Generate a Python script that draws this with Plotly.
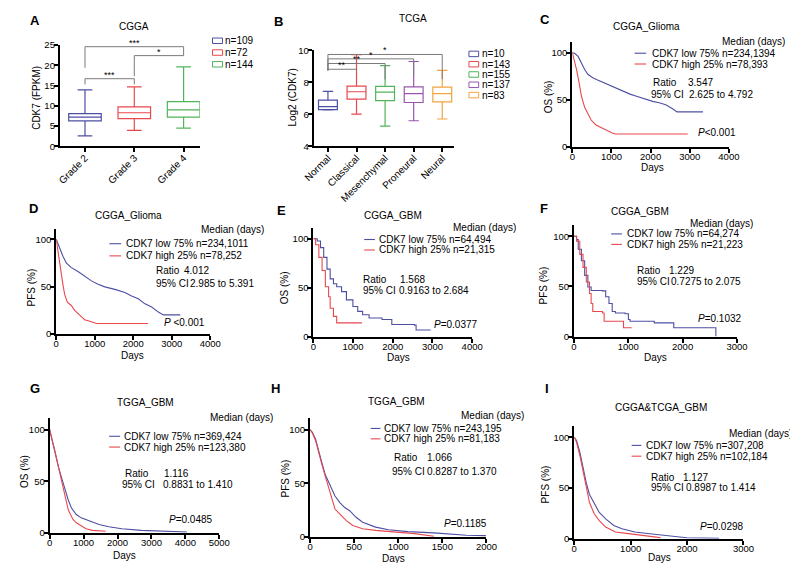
import plotly.graph_objects as go

W, H = 798, 563
FONT = "Arial, Liberation Sans, Helvetica, sans-serif"
BLUE = "#4d4fa3"
RED = "#e8484d"
GREEN = "#52b45a"
PURPLE = "#9b55b0"
ORANGE = "#f2a441"
GREY = "#7a7a7a"

# ---------------- data: panel A (CGGA boxes) ----------------
A_cats = ["Grade 2", "Grade 3", "Grade 4"]
A_q1 = [6.3, 6.85, 7.2]
A_med = [7.2, 8.3, 9.0]
A_q3 = [8.06, 9.76, 11.05]
A_low = [2.6, 3.95, 4.5]
A_high = [13.95, 14.7, 19.6]
A_n = ["n=109", "n=72", "n=144"]
A_yticks = [0, 5, 10, 15, 20, 25]
A_sig_pairs = [(0, 2), (1, 2), (0, 1)]
A_sig_y = [24.6, 22.4, 16.7]
A_sig_leg_left = [19.4, 17.3, 15.3]
A_sig_leg_right = [22.4, 22.4, 15.3]
A_sig_label = ["***", "*", "***"]

# ---------------- data: panel B (TCGA boxes) ----------------
B_cats = ["Normal", "Classical", "Mesenchymal", "Proneural", "Neural"]
B_q1 = [6.3, 6.95, 6.85, 6.74, 6.78]
B_med = [6.48, 7.41, 7.39, 7.29, 7.29]
B_q3 = [6.89, 7.76, 7.74, 7.72, 7.7]
B_low = [6.27, 6.01, 5.26, 5.6, 5.71]
B_high = [7.43, 9.73, 9.04, 9.3, 8.74]
B_n = ["n=10", "n=143", "n=155", "n=137", "n=83"]
B_yticks = [4, 6, 8, 10]
B_sig_pairs = [(0, 4), (0, 3), (0, 2), (0, 1)]
B_sig_y = [11.32, 10.97, 10.6, 10.14]
B_sig_leg_left = [10.05, 10.05, 10.05, 10.05]
B_sig_leg_right = [9.35, 9.63, 9.33, 10.0]
B_sig_label = ["*", "*", "**", "**"]

# ---------------- data: Kaplan-Meier curves (days, %) ----------------
C_low_t = [0, 66, 149, 232, 315, 398, 522, 646, 812, 977, 1143, 1308, 1474, 1640, 1888, 2054, 2220, 2385, 2551, 2675, 3337]
C_low_s = [100, 99, 95.9, 89, 82, 77, 73.4, 71, 68, 64.8, 61.4, 58.6, 56, 53.8, 50.3, 48.3, 46.9, 44.8, 40.7, 37.2, 37.2]
C_high_t = [0, 41, 108, 174, 232, 315, 398, 480, 605, 729, 853, 1019, 1101, 2950]
C_high_s = [100, 94, 82, 68, 54, 42, 34.5, 28.6, 23.4, 20.7, 18.3, 14.8, 13.8, 13.8]

D_low_t = [0, 87, 174, 261, 391, 565, 739, 913, 1087, 1261, 1522, 1783, 1957, 2130, 2304, 2478, 2652, 2783, 3220]
D_low_s = [100, 90, 82, 75, 70, 66, 61, 56, 52.4, 49.7, 47, 43.8, 40, 37, 31.7, 28.3, 23, 20, 20]
D_high_t = [0, 43, 87, 130, 174, 217, 287, 391, 478, 609, 739, 913, 1043, 2380]
D_high_s = [100, 87, 76, 63, 52, 42, 33.4, 30, 24.8, 19.7, 15, 12.8, 11, 11]

E_low_t = [0, 98, 180, 261, 343, 424, 506, 588, 710, 833, 996, 1118, 1241, 1404, 1731, 1976, 2547, 2588, 2955]
E_low_s = [100, 97.7, 91, 81, 69, 59, 54, 51, 46, 37.5, 30.8, 25.8, 22.4, 19, 17.4, 12.4, 11.7, 6.7, 6.7]
E_high_t = [0, 57, 139, 220, 302, 384, 424, 506, 588, 1224]
E_high_s = [100, 94, 81, 67.6, 51, 40.8, 29, 20.7, 14, 14]

F_low_t = [0, 48, 78, 137, 197, 256, 316, 525, 584, 644, 704, 763, 942, 1002, 1032, 1479, 1837, 2612]
F_low_s = [100, 96.7, 87, 75.6, 61, 49.5, 46, 45.6, 39.7, 33, 25, 23.5, 22.8, 17, 15.3, 13.7, 8.8, 0]
F_high_t = [0, 48, 107, 167, 227, 286, 316, 346, 525, 555, 883, 912, 1061]
F_high_s = [100, 95, 82, 69, 54.4, 43, 33, 25, 23.5, 15.3, 15.3, 8.8, 8.8]

G_low_t = [0, 67, 163, 259, 355, 451, 547, 642, 786, 930, 1170, 1457, 1745, 2128, 2704, 3279, 3854, 4046]
G_low_s = [100, 90, 77, 64, 53, 42, 32, 24, 17.6, 14.4, 11.2, 8, 5.8, 3.8, 2.2, 1.3, 0.6, 0.6]
G_high_t = [0, 67, 163, 259, 355, 422, 499, 547, 614, 690, 786, 930, 1074, 1266, 1650]
G_high_s = [100, 92, 78.5, 64, 51, 42, 30.4, 22.4, 17.6, 12.8, 9.6, 7, 3.8, 2.2, 1.3]

H_low_t = [0, 26, 62, 99, 136, 173, 228, 283, 338, 393, 449, 522, 596, 743, 890, 1110, 1404, 1625, 1772, 1993]
H_low_s = [100, 97.6, 91.5, 79.3, 68.6, 57.9, 47.3, 38.1, 32, 27.4, 24.4, 18.3, 13.7, 9.1, 6.7, 4.9, 3.7, 2.1, 1.5, 1.2]
H_high_t = [0, 26, 62, 99, 136, 173, 210, 246, 283, 338, 412, 485, 596, 743, 1037, 1184, 1404]
H_high_s = [100, 97, 90, 77.7, 67, 56.4, 45.7, 35, 26, 21.3, 15.2, 10.7, 7.6, 6.1, 4.3, 3, 0.6]

I_low_t = [0, 40, 98, 155, 213, 270, 356, 443, 557, 701, 845, 1075, 1420, 1707, 1994, 2569]
I_low_s = [100, 96.8, 85.5, 69.5, 55, 43.7, 34.1, 26, 19.6, 13.2, 10, 6.8, 4.5, 2.6, 1, 0.6]
I_high_t = [0, 40, 98, 155, 213, 270, 356, 443, 557, 730, 960, 1247, 1420, 1534]
I_high_s = [100, 95.2, 82.3, 66.2, 50.2, 35.7, 24.4, 18, 11.6, 6.8, 5.1, 3.5, 1.9, 1]

KM_yticks = [0, 50, 100]

# ---------------- helpers ----------------
fig = go.Figure()
layout = {}
annotations = []
shapes = []


def xdom(a, b):
    return [a / W, b / W]


def ydom(top, bottom):
    return [1 - bottom / H, 1 - top / H]


def px(x):
    return x / W


def py(y):
    return 1 - y / H


def axis_style(**kw):
    d = dict(showline=True, linecolor="black", linewidth=2, ticks="outside", ticklen=4,
             tickwidth=1.5, tickcolor="black", showgrid=False, zeroline=False,
             tickfont=dict(family=FONT, size=9.5, color="black"), fixedrange=True)
    d.update(kw)
    return d


def add_axes(n, xd, yd, xkw, ykw):
    xs = "xaxis" if n == 1 else f"xaxis{n}"
    ys = "yaxis" if n == 1 else f"yaxis{n}"
    xa = "x" if n == 1 else f"x{n}"
    ya = "y" if n == 1 else f"y{n}"
    xk = dict(ticklabelstandoff=-4)
    xk.update(xkw)
    yk = dict(ticklabelstandoff=-3)
    yk.update(ykw)
    layout[xs] = axis_style(domain=xd, anchor=ya, **xk)
    layout[ys] = axis_style(domain=yd, anchor=xa, **yk)
    return xa, ya


def text(t, x, y, xanchor="left", size=10, bold=False, angle=0, yanchor="middle"):
    annotations.append(dict(text=f"<b>{t}</b>" if bold else t, x=px(x), y=py(y), xref="paper",
                            yref="paper", xanchor=xanchor, yanchor=yanchor, showarrow=False,
                            textangle=angle, font=dict(family=FONT, size=size, color="black")))


def brackets(xa, ya, cats, pairs, ys, legl, legr, labels):
    for (i, j), yv, l1, l2, lab in zip(pairs, ys, legl, legr, labels):
        fig.add_trace(go.Scatter(x=[cats[i], cats[i], cats[j], cats[j]], y=[l1, yv, yv, l2],
                                 mode="lines", line=dict(color=GREY, width=1),
                                 xaxis=xa, yaxis=ya, hoverinfo="skip"))
        annotations.append(dict(text=lab, x=(i + j) / 2, y=yv, xref=xa, yref=ya, showarrow=False,
                                yanchor="bottom", yshift=-3,
                                font=dict(family=FONT, size=9, color="black")))


def boxes(xa, ya, cats, q1, med, q3, lo, hi, colors, width, whisk):
    for c, a, m, b, l, h, col in zip(cats, q1, med, q3, lo, hi, colors):
        fig.add_trace(go.Box(x=[c], q1=[a], median=[m], q3=[b], lowerfence=[l], upperfence=[h],
                             boxpoints=False, fillcolor="white", line=dict(color=col, width=1.2),
                             width=width, whiskerwidth=whisk, xaxis=xa, yaxis=ya, hoverinfo="skip"))


# ---------------- Panel A ----------------
xa, ya = add_axes(1, xdom(42, 186), ydom(31.7, 135),
                  dict(range=[-0.51, 2.33], type="category", categoryorder="array",
                       categoryarray=A_cats, tickangle=-45,
                       tickfont=dict(family=FONT, size=10, color="black")),
                  dict(range=[0, 25], tickvals=A_yticks))
A_colors = [BLUE, RED, GREEN]
boxes(xa, ya, A_cats, A_q1, A_med, A_q3, A_low, A_high, A_colors, 0.66, 0.45)
brackets(xa, ya, A_cats, A_sig_pairs, A_sig_y, A_sig_leg_left, A_sig_leg_right, A_sig_label)
text("A", 16.7, 6.7, "center", 13, True)
text("CGGA", 118, 13, "center")
text("CDK7 (FPKM)", 18, 86, "center", angle=-90)
for k, (lab, col) in enumerate(zip(A_n, A_colors)):
    yy = 27.3 + 12 * k
    shapes.append(dict(type="rect", xref="paper", yref="paper", x0=px(199), x1=px(209.3),
                       y0=py(yy + 2.8), y1=py(yy - 2.8), line=dict(color=col, width=1),
                       fillcolor="white"))
    text(lab, 210, yy, "left")

# ---------------- Panel B ----------------
xa, ya = add_axes(2, xdom(303, 447), ydom(37, 135),
                  dict(range=[-0.5, 4.4], type="category", categoryorder="array",
                       categoryarray=B_cats, tickangle=-45,
                       tickfont=dict(family=FONT, size=10, color="black")),
                  dict(range=[4, 10], tickvals=B_yticks))
B_colors = [BLUE, RED, GREEN, PURPLE, ORANGE]
boxes(xa, ya, B_cats, B_q1, B_med, B_q3, B_low, B_high, B_colors, 0.66, 0.55)
# overlay axes (same scale, taller) for the significance brackets
xo, yo = add_axes(3, xdom(303, 447), ydom(10, 135),
                  dict(range=[-0.5, 4.4], type="category", categoryorder="array",
                       categoryarray=B_cats, visible=False),
                  dict(range=[4, 4 + (135 - 10) / (135 - 37) * 6], visible=False))
layout["xaxis3"]["overlaying"] = "x2"
layout["yaxis3"]["overlaying"] = "y2"
brackets(xo, yo, B_cats, B_sig_pairs, B_sig_y, B_sig_leg_left, B_sig_leg_right, B_sig_label)
text("B", 266.7, 7.3, "center", 13, True)
text("TCGA", 405, 4.5, "center")
text("Log2 (CDK7)", 281, 85, "center", angle=-90)
for k, (lab, col) in enumerate(zip(B_n, B_colors)):
    yy = 40.7 + 10.5 * k
    shapes.append(dict(type="rect", xref="paper", yref="paper", x0=px(462.7), x1=px(472.7),
                       y0=py(yy + 2.8), y1=py(yy - 2.8), line=dict(color=col, width=1),
                       fillcolor="white"))
    text(lab, 474.3, yy, "left")

# ---------------- KM panels ----------------
km_panels = [
    dict(n=4, letter="C", title="CGGA_Glioma", ytitle="OS (%)",
         low=(C_low_t, C_low_s), high=(C_high_t, C_high_s), xmax=4000, dt=1000, shape="linear",
         low_lab="CDK7 low 75% n=234,1394", high_lab="CDK7 high 25% n=78,393",
         ratio="3.547", ci="2.625 to 4.792", p="<i>P</i>&lt;0.001",
         xpx=(569, 730), y0=135.7, y100=39.3,
         pos=dict(title=(645.7, 12.3), letter=(540.7, 6), ytitle=(544, 85), xtitle=(651.7, 156.5),
                  median=(790, 28), leg=(649, 40, 51), line=(633, 645),
                  ratio=(650, 70, 686), ci=(648, 82, 686.7), p=(696, 121))),
    dict(n=5, letter="D", title="CGGA_Glioma", ytitle="PFS (%)",
         low=(D_low_t, D_low_s), high=(D_high_t, D_high_s), xmax=4000, dt=1000, shape="linear",
         low_lab="CDK7 low 75% n=234,1011", high_lab="CDK7 high 25% n=78,252",
         ratio="4.012", ci="2.985 to 5.391", p="<i>P</i> &lt;0.001",
         xpx=(38.3, 196.7), y0=326.2, y100=229.8,
         pos=dict(title=(113, 205.7), letter=(15, 198.3), ytitle=(13, 279.3), xtitle=(117, 348),
                  median=(254, 220), leg=(107.7, 234.3, 246.7), line=(93, 105),
                  ratio=(139.3, 262, 168), ci=(139.3, 275, 174), p=(146.7, 315))),
    dict(n=6, letter="E", title="CGGA_GBM", ytitle="OS (%)",
         low=(E_low_t, E_low_s), high=(E_high_t, E_high_s), xmax=4000, dt=1000, shape="hv",
         low_lab="CDK7 low 75% n=64,494", high_lab="CDK7 high 25% n=21,315",
         ratio="1.568", ci="0.9163 to 2.684", p="<i>P</i>=0.0377",
         xpx=(302.7, 466), y0=329, y100=229.3,
         pos=dict(title=(385, 205.7), letter=(270, 200), ytitle=(273, 279.3), xtitle=(390, 350.5),
                  median=(513, 217.7), leg=(368.3, 230, 240.7), line=(355, 366),
                  ratio=(351.7, 271, 390), ci=(351.7, 281.7, 388.3), p=(425, 316.7))),
    dict(n=7, letter="F", title="CGGA_GBM", ytitle="PFS (%)",
         low=(F_low_t, F_low_s), high=(F_high_t, F_high_s), xmax=3000, dt=1000, shape="hv",
         low_lab="CDK7 low 75% n=64,274", high_lab="CDK7 high 25% n=21,223",
         ratio="1.229", ci="0.7275 to 2.075", p="<i>P</i>=0.1032",
         xpx=(570.7, 738.3), y0=329, y100=226.7,
         pos=dict(title=(638.3, 201), letter=(540, 198.3), ytitle=(539, 276.7), xtitle=(655, 350.5),
                  median=(756.7, 213.3), leg=(622.7, 224.3, 235), line=(609, 620),
                  ratio=(633, 261.7, 666), ci=(633, 273.3, 668.5), p=(696.7, 311))),
    dict(n=8, letter="G", title="TGGA_GBM", ytitle="OS (%)",
         low=(G_low_t, G_low_s), high=(G_high_t, G_high_s), xmax=5000, dt=1000, shape="linear",
         low_lab="CDK7 low 75% n=369,424", high_lab="CDK7 high 25% n=123,380",
         ratio="1.116", ci="0.8831 to 1.410", p="<i>P</i>=0.0485",
         xpx=(31.5, 206), y0=529, y100=424,
         pos=dict(title=(130, 396.7), letter=(16.7, 381.7), ytitle=(5.5, 466.7), xtitle=(108.3, 552.5),
                  median=(263.3, 411.7), leg=(106, 430.7, 441.7), line=(92.7, 104),
                  ratio=(106.7, 469, 146.7), ci=(104, 480, 145.7), p=(152.7, 516))),
    dict(n=9, letter="H", title="TGGA_GBM", ytitle="PFS (%)",
         low=(H_low_t, H_low_s), high=(H_high_t, H_high_s), xmax=2000, dt=500, shape="linear",
         low_lab="CDK7 low 75% n=243,195", high_lab="CDK7 high 25% n=81,183",
         ratio="1.066", ci="0.8287 to 1.370", p="<i>P</i>=0.1185",
         xpx=(299.3, 480.7), y0=533.3, y100=424,
         pos=dict(title=(388.3, 395), letter=(263.3, 381.7), ytitle=(274, 473.3), xtitle=(385, 555),
                  median=(521.7, 410), leg=(373.3, 422.7, 433.3), line=(361.7, 371.7),
                  ratio=(383.3, 452.7, 417), ci=(381.7, 466.7, 417), p=(435, 520))),
    dict(n=10, letter="I", title="CGGA&amp;TCGA_GBM", ytitle="PFS (%)",
         low=(I_low_t, I_low_s), high=(I_high_t, I_high_s), xmax=3000, dt=1000, shape="linear",
         low_lab="CDK7 low 75% n=307,208", high_lab="CDK7 high 25% n=102,184",
         ratio="1.127", ci="0.8987 to 1.414", p="<i>P</i>=0.0298",
         xpx=(571, 745), y0=535.3, y100=431.7,
         pos=dict(title=(660, 401.7), letter=(543.3, 381.7), ytitle=(541.7, 480), xtitle=(658.3, 554.5),
                  median=(797, 428.3), leg=(642.7, 440, 451), line=(630, 640),
                  ratio=(648.3, 472.7, 681), ci=(648.3, 483.3, 684), p=(698.3, 522.7))),
]

YMAX = 111
for pnl in km_panels:
    top = pnl["y0"] - YMAX / 100 * (pnl["y0"] - pnl["y100"])
    xticks = list(range(0, pnl["xmax"] + 1, pnl["dt"]))
    xa, ya = add_axes(pnl["n"], xdom(*pnl["xpx"]), ydom(top, pnl["y0"]),
                      dict(range=[0, pnl["xmax"]], tickvals=xticks),
                      dict(range=[0, YMAX], tickvals=KM_yticks))
    for (t, s), col in ((pnl["low"], BLUE), (pnl["high"], RED)):
        fig.add_trace(go.Scatter(x=t, y=s, mode="lines",
                                 line=dict(color=col, width=1.1, shape=pnl["shape"]),
                                 xaxis=xa, yaxis=ya, hoverinfo="skip"))
    p = pnl["pos"]
    text(pnl["letter"], *p["letter"], xanchor="center", size=13, bold=True)
    text(pnl["title"], *p["title"], xanchor="center")
    text(pnl["ytitle"], *p["ytitle"], xanchor="center", angle=-90)
    text("Days", *p["xtitle"], xanchor="center")
    text("Median (days)", *p["median"], xanchor="right")
    lx, ly1, ly2 = p["leg"]
    for yy, lab, col in ((ly1, pnl["low_lab"], BLUE), (ly2, pnl["high_lab"], RED)):
        shapes.append(dict(type="line", xref="paper", yref="paper", x0=px(p["line"][0]),
                           x1=px(p["line"][1]), y0=py(yy), y1=py(yy),
                           line=dict(color=col, width=1.1)))
        text(lab, lx, yy, "left")
    rx, ry, rv = p["ratio"]
    text("Ratio", rx, ry, "left")
    text(pnl["ratio"], rv, ry, "left")
    cx, cy, cv = p["ci"]
    text("95% CI", cx, cy, "left")
    text(pnl["ci"], cv, cy, "left")
    text(pnl["p"], *p["p"], xanchor="left")

fig.update_layout(**layout)
fig.update_layout(width=W, height=H, margin=dict(l=0, r=0, t=0, b=0),
                  plot_bgcolor="white", paper_bgcolor="white", showlegend=False,
                  annotations=annotations, shapes=shapes, boxmode="overlay",
                  font=dict(family=FONT, size=10, color="black"))
fig.write_html("out.html")
